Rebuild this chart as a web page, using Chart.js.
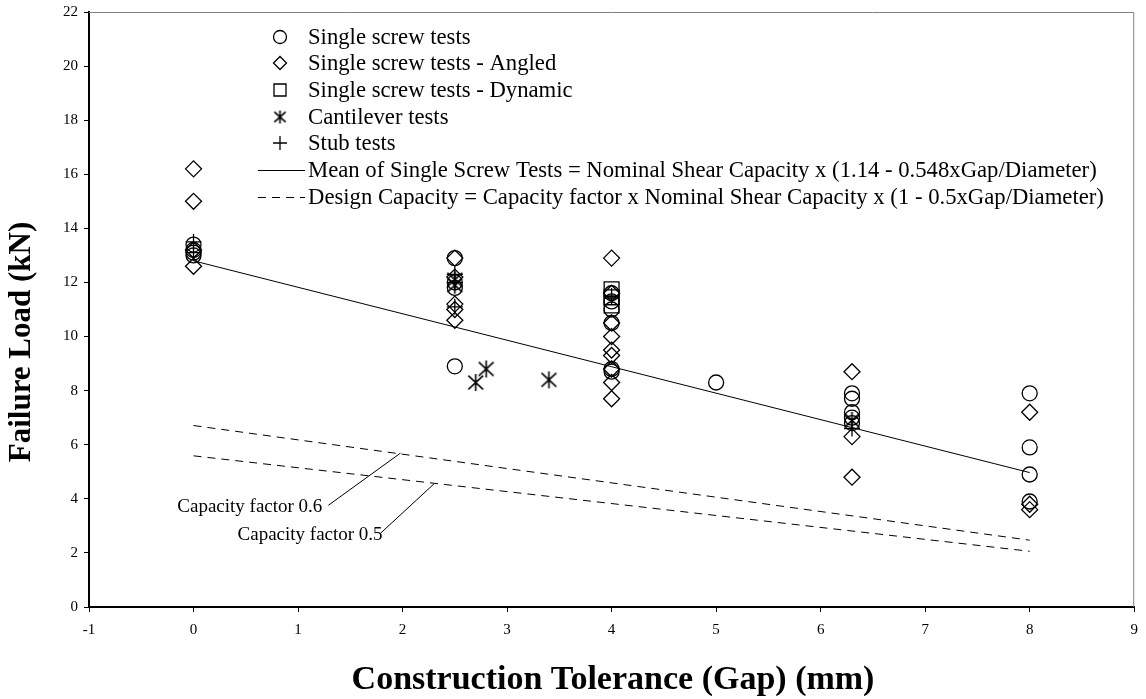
<!DOCTYPE html>
<html>
<head>
<meta charset="utf-8">
<script src="https://cdn.jsdelivr.net/npm/chart.js@4.4.1/dist/chart.umd.min.js"></script>
<style>
  html, body { margin: 0; padding: 0; background: #fff; }
  #wrap { width: 1146px; height: 699px; position: relative; }
</style>
</head>
<body>
<div id="wrap"><canvas id="myChart"></canvas></div>
<script>
// values
const singleX = [0, 0, 0, 0, 2.5, 2.5, 2.5, 2.5, 4, 4, 4, 4, 4, 4, 5, 6.3, 6.3, 6.3, 6.3, 6.3, 8, 8, 8, 8];
const singleY = [13.4, 13.2, 13.1, 13.0, 12.9, 12.0, 11.8, 8.9, 11.6, 11.3, 11.0, 10.5, 8.8, 8.7, 8.3, 7.9, 7.7, 7.2, 7.0, 6.8, 7.9, 5.9, 4.9, 3.9];

const angledX = [0, 0, 0, 0, 2.5, 2.5, 2.5, 2.5, 2.5, 4, 4, 4, 4, 4, 4, 4, 4, 4, 6.3, 6.3, 6.3, 8, 8, 8];
const angledY = [16.2, 15.0, 13.2, 12.6, 12.9, 12.2, 11.2, 11.0, 10.6, 12.9, 11.6, 10.5, 10.0, 9.5, 9.3, 8.8, 8.3, 7.7, 8.7, 6.3, 4.8, 7.2, 3.8, 3.6];

const dynamicX = [4, 4, 4];
const dynamicY = [11.75, 11.45, 11.15];

const cantX = [2.5, 2.5, 2.7, 2.8, 3.4, 6.3];
const cantY = [12.1, 11.9, 8.3, 8.8, 8.4, 6.9];

const stubX = [0, 0, 2.5, 2.5, 2.5, 4, 6.3];
const stubY = [13.5, 13.1, 12.3, 12.0, 11.1, 11.5, 6.6];

const meanX = [0, 8];
const meanY = [12.8, 4.97];
const design6Y = [6.71, 2.47];
const design5Y = [5.59, 2.06];

const lead6X = [1.29, 1.98];
const lead6Y = [3.76, 5.69];
const lead5X = [1.79, 2.30];
const lead5Y = [2.73, 4.55];

const legendLabels = [
    'Single screw tests',
    'Single screw tests - Angled',
    'Single screw tests - Dynamic',
    'Cantilever tests',
    'Stub tests',
    'Mean of Single Screw Tests = Nominal Shear Capacity x (1.14 - 0.548xGap/Diameter)',
    'Design Capacity = Capacity factor x Nominal Shear Capacity x (1 - 0.5xGap/Diameter)'
];

const serif = '"Liberation Serif", "Times New Roman", serif';

function pts(xs, ys) {
    return xs.map((x, i) => ({ x: x, y: ys[i] }));
}

// six-armed asterisk like the one in the picture
function asterisk(size) {
    let c = document.createElement('canvas');
    c.width = size; c.height = size;
    let g = c.getContext('2d');
    let m = size / 2, r = size / 2 - 1;
    g.strokeStyle = '#000';
    g.lineWidth = 1.6;
    g.beginPath();
    g.moveTo(m, m - r); g.lineTo(m, m + r);
    g.moveTo(m - r * 0.87, m - r * 0.8); g.lineTo(m + r * 0.87, m + r * 0.8);
    g.moveTo(m + r * 0.87, m - r * 0.8); g.lineTo(m - r * 0.87, m + r * 0.8);
    g.stroke();
    return c;
}
const starImg = asterisk(19);
const starSmall = asterisk(15);

const markerStyles = [
    { pointStyle: 'circle', radius: 7.5 },
    { pointStyle: 'rectRot', radius: 8 },
    { pointStyle: 'rect', radius: 10.5 },
    { pointStyle: starImg, radius: 9 },
    { pointStyle: 'cross', radius: 8 }
];

function scatterSet(label, xs, ys, k) {
    return {
        label: label,
        type: 'scatter',
        data: pts(xs, ys),
        pointStyle: markerStyles[k].pointStyle,
        pointRadius: markerStyles[k].radius,
        pointHoverRadius: markerStyles[k].radius,
        backgroundColor: 'rgba(0,0,0,0)',
        borderColor: '#000',
        borderWidth: 1.3
    };
}

function lineSet(label, xs, ys, dash, width) {
    return {
        label: label,
        type: 'line',
        data: pts(xs, ys),
        showLine: true,
        borderColor: '#000',
        borderWidth: width,
        borderDash: dash,
        pointRadius: 0,
        fill: false,
        tension: 0
    };
}

const extras = {
    id: 'extras',
    afterDraw(chart) {
        let ctx = chart.ctx;
        let a = chart.chartArea;
        let xs = chart.scales.x, ys = chart.scales.y;
        ctx.save();

        // grey frame on top and right
        ctx.strokeStyle = '#808080';
        ctx.lineWidth = 1;
        ctx.beginPath();
        ctx.moveTo(a.left, a.top + 0.5);
        ctx.lineTo(a.right - 0.5, a.top + 0.5);
        ctx.lineTo(a.right - 0.5, a.bottom);
        ctx.stroke();

        // legend
        ctx.font = '22.7px ' + serif;
        ctx.textBaseline = 'middle';
        ctx.textAlign = 'left';
        let rowY = [37, 63, 90, 117, 143, 170, 197];
        let symX = 280, textX = 308;
        legendLabels.forEach((t, i) => {
            let y = rowY[i];
            ctx.strokeStyle = '#000';
            ctx.lineWidth = 1.3;
            if (i < 5) {
                let st = i === 3 ? starSmall : markerStyles[i].pointStyle;
                let r = [6.5, 6.5, 8.5, 7, 7][i];
                ctx.fillStyle = 'rgba(0,0,0,0)';
                Chart.helpers.drawPoint(ctx, { pointStyle: st, radius: r, rotation: 0, borderWidth: 1.3 }, symX, y);
            } else {
                ctx.lineWidth = 1;
                ctx.setLineDash(i === 6 ? [8, 6] : []);
                ctx.beginPath();
                ctx.moveTo(258, y + 0.5);
                ctx.lineTo(305, y + 0.5);
                ctx.stroke();
                ctx.setLineDash([]);
            }
            ctx.fillStyle = '#000';
            ctx.fillText(t, textX, y + 1);
        });

        // capacity factor notes
        ctx.font = '19px ' + serif;
        ctx.textAlign = 'right';
        ctx.fillText('Capacity factor 0.6', xs.getPixelForValue(lead6X[0]) - 6, ys.getPixelForValue(lead6Y[0]) + 2);
        ctx.fillText('Capacity factor 0.5', xs.getPixelForValue(lead5X[0]) + 2, ys.getPixelForValue(lead5Y[0]) + 2);

        // axis titles
        ctx.textAlign = 'center';
        ctx.font = 'bold 34px ' + serif;
        ctx.fillText('Construction Tolerance (Gap) (mm)', 613, 680);
        ctx.font = 'bold 31px ' + serif;
        ctx.translate(22, 342);
        ctx.rotate(-Math.PI / 2);
        ctx.fillText('Failure Load (kN)', 0, 0);
        ctx.restore();
    }
};

let ctx = document.getElementById('myChart');

new Chart(ctx, {
    type: 'scatter',
    data: {
        datasets: [
            scatterSet('Single screw tests', singleX, singleY, 0),
            scatterSet('Single screw tests - Angled', angledX, angledY, 1),
            scatterSet('Single screw tests - Dynamic', dynamicX, dynamicY, 2),
            scatterSet('Cantilever tests', cantX, cantY, 3),
            scatterSet('Stub tests', stubX, stubY, 4),
            lineSet('Mean', meanX, meanY, [], 1),
            lineSet('Design 0.6', meanX, design6Y, [8, 6], 1),
            lineSet('Design 0.5', meanX, design5Y, [8, 6], 1),
            lineSet('lead 0.6', lead6X, lead6Y, [], 1),
            lineSet('lead 0.5', lead5X, lead5Y, [], 1)
        ]
    },
    options: {
        responsive: true,
        maintainAspectRatio: false,
        animation: false,
        layout: {
            padding: { top: 12, right: 5, left: 0, bottom: 0 }
        },
        plugins: {
            legend: { display: false },
            tooltip: { enabled: false }
        },
        scales: {
            x: {
                type: 'linear',
                min: -1,
                max: 9,
                afterFit: (s) => { s.height = 92; s.paddingLeft = 0; s.paddingRight = 0; },
                ticks: {
                    stepSize: 1,
                    color: '#000',
                    padding: 9,
                    font: { family: serif, size: 15 }
                },
                grid: {
                    drawOnChartArea: false,
                    tickLength: 5,
                    tickColor: '#000'
                },
                border: { color: '#000', width: 2 }
            },
            y: {
                type: 'linear',
                min: 0,
                max: 22,
                afterFit: (s) => { s.width = 89; s.paddingTop = 0; s.paddingBottom = 0; },
                ticks: {
                    stepSize: 2,
                    color: '#000',
                    padding: 6,
                    font: { family: serif, size: 15 }
                },
                grid: {
                    drawOnChartArea: false,
                    tickLength: 5,
                    tickColor: '#000'
                },
                border: { color: '#000', width: 2 }
            }
        }
    },
    plugins: [extras]
});
</script>
</body>
</html>
